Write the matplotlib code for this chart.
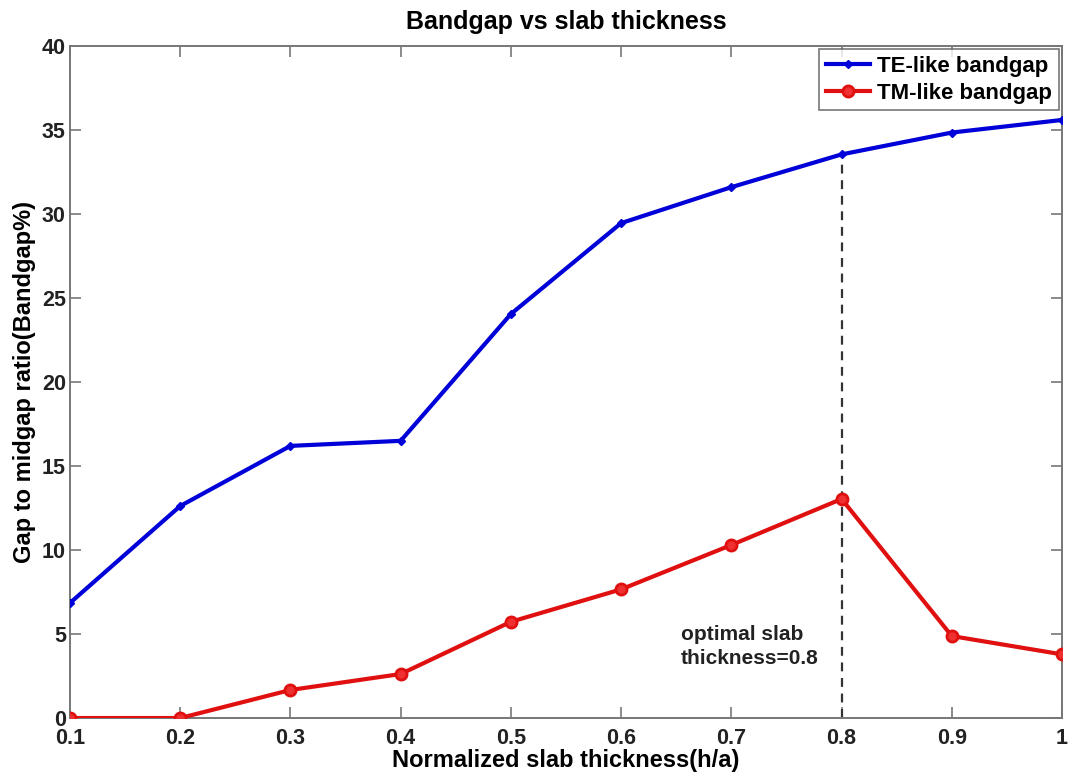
import numpy as np
import matplotlib.pyplot as plt

thickness = [0.1, 0.2, 0.3, 0.4, 0.5, 0.6, 0.7, 0.8, 0.9, 1.0]
te_gap = [6.85, 12.62, 16.2, 16.5, 24.05, 29.46, 31.6, 33.55, 34.85, 35.6]
tm_gap = [0.0, 0.0, 1.67, 2.62, 5.73, 7.66, 10.3, 13.04, 4.88, 3.79]
x_ticks = [0.1, 0.2, 0.3, 0.4, 0.5, 0.6, 0.7, 0.8, 0.9, 1.0]
x_ticklabels = ["0.1", "0.2", "0.3", "0.4", "0.5", "0.6", "0.7", "0.8", "0.9", "1"]
y_ticks = [0, 5, 10, 15, 20, 25, 30, 35, 40]
optimal = 0.8

plt.rcParams['font.family'] = ['Liberation Sans', 'DejaVu Sans']

fig = plt.figure(figsize=(10.72, 7.75), dpi=100)
ax = fig.add_axes([0.0653, 0.0735, 0.9254, 0.8671])

ax.plot(thickness, te_gap, color='#0000d8', lw=3, marker='D', ms=4.5,
        mfc='#0000d8', mec='#0000d8', label='TE-like bandgap', zorder=3)
ax.plot(thickness, tm_gap, color='#e01010', lw=3, marker='o', ms=8,
        mfc='#ee3030', mec='#e01010', mew=2, label='TM-like bandgap', zorder=3)

# dashed marker line up to the TE curve at the optimal thickness
te_at_opt = te_gap[thickness.index(optimal)]
ax.plot([optimal, optimal], [0, te_at_opt], color='#333333', lw=1.6,
        ls=(0, (4, 3)), zorder=2)
ax.text(0.6545, 3.0, "optimal slab\nthickness=0.8", fontsize=15,
        fontweight='bold', color='#222222', ha='left', va='bottom',
        linespacing=1.3)

ax.set_xlim(0.1, 1.0)
ax.set_ylim(0, 40)
ax.set_xticks(x_ticks)
ax.set_xticklabels(x_ticklabels)
ax.set_yticks(y_ticks)
ax.tick_params(direction='in', length=8, width=1.2, color='#777777',
               top=True, right=True, labelsize=15.5)
ax.tick_params(axis='x', pad=7)
ax.tick_params(axis='y', pad=3)
for lab in ax.get_xticklabels() + ax.get_yticklabels():
    lab.set_fontweight('bold')
    lab.set_color('#222222')
for sp in ax.spines.values():
    sp.set_color('#777777')
    sp.set_linewidth(1.4)

ax.set_xlabel("Normalized slab thickness(h/a)", fontsize=17,
              fontweight='bold', labelpad=0)
ax.set_ylabel("Gap to midgap ratio(Bandgap%)", fontsize=17,
              fontweight='bold', labelpad=4)
ax.set_title("Bandgap vs slab thickness", fontsize=18, fontweight='bold',
             family=['Liberation Sans Narrow', 'Liberation Sans'], pad=12)

leg = ax.legend(loc='upper right', prop={'weight': 'bold', 'size': 16},
                frameon=True, fancybox=False, borderaxespad=0.15,
                handlelength=2.0, handletextpad=0.3, borderpad=0.3,
                labelspacing=0.25)
leg.get_frame().set_edgecolor('#555555')
leg.get_frame().set_linewidth(1.2)

fig.savefig('out.png', dpi=100, facecolor='white')
